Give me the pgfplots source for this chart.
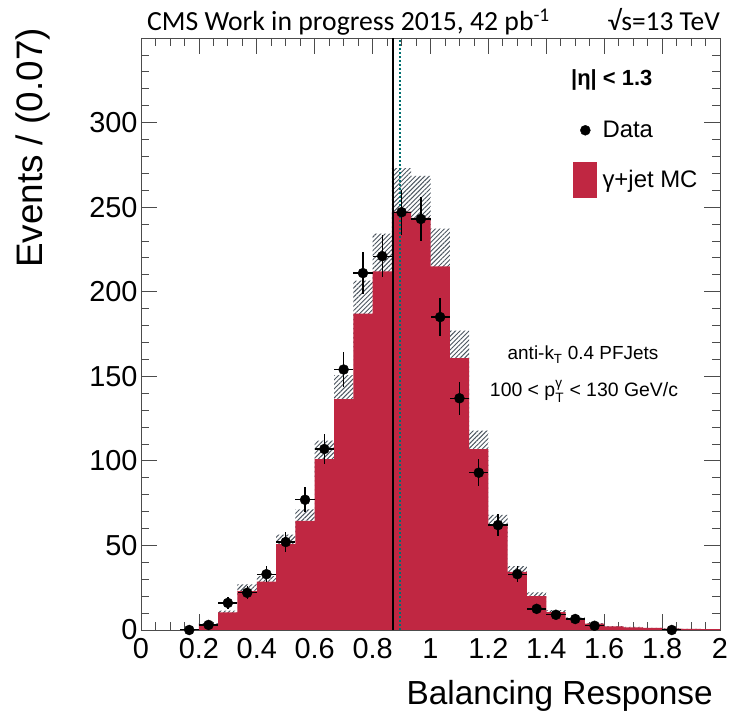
\documentclass[border=0pt]{standalone}
\usepackage{fontspec}
\setmainfont{Liberation Sans}
\newfontfamily\carlito{Carlito}
\usepackage{amsmath}
\usepackage{pgfplots}
\usepackage{pgfplotstable}
\pgfplotsset{compat=1.18}
\usepgfplotslibrary{fillbetween}
\usetikzlibrary{patterns.meta}

\definecolor{mcred}{RGB}{192,39,66}
\definecolor{hatchgray}{RGB}{75,85,95}
\definecolor{meanteal}{RGB}{0,112,112}

% gamma+jet MC, bin left edges (bin width 2/30)
\pgfplotstableread{
x      y
0.2000 3.5
0.2667 10.4
0.3333 23.0
0.4000 28.6
0.4667 50.8
0.5333 64.5
0.6000 101.0
0.6667 136.5
0.7333 187.0
0.8000 212.0
0.8667 247.4
0.9333 243.6
1.0000 215.0
1.0667 160.8
1.1333 107.0
1.2000 62.6
1.2667 34.3
1.3333 20.1
1.4000 10.6
1.4667 6.7
1.5333 3.7
1.6000 2.1
1.6667 1.6
1.7333 1.2
1.8000 0.8
1.8667 0.6
1.9333 0.5
2.0000 0.5
}\mctable

% MC uncertainty band
\pgfplotstableread{
x      lo     hi
0.2000 3.0    4.0
0.2667 9.4    11.4
0.3333 19.5   27.0
0.4000 25.4   31.8
0.4667 45.2   56.4
0.5333 57.1   71.3
0.6000 89.7   112.0
0.6667 122.0  150.7
0.7333 167.3  206.6
0.8000 189.9  234.3
0.8667 222.0  273.0
0.9333 217.5  268.5
1.0000 192.4  237.3
1.0667 144.0  177.0
1.1333 96.2   117.9
1.2000 55.1   68.1
1.2667 30.8   37.7
1.3333 17.8   22.2
1.4000 9.5    11.7
1.4667 6.0    7.4
1.5333 3.3    4.1
1.6000 1.9    2.3
1.6667 1.4    1.8
1.7333 1.1    1.3
1.8000 0.7    0.9
1.8667 0.5    0.7
1.9333 0.45   0.55
2.0000 0.45   0.55
}\bandtable

% data, bin centres
\pgfplotstableread{
x      y     ex      ey
0.1667 0     0.0333  0
0.2333 3     0.0333  1.5
0.3000 16    0.0333  3.4
0.3667 22    0.0333  3.9
0.4333 33    0.0333  4.8
0.5000 52    0.0333  6.0
0.5667 77    0.0333  7.4
0.6333 107   0.0333  8.7
0.7000 154   0.0333  10.4
0.7667 211   0.0333  12.2
0.8333 221   0.0333  12.4
0.9000 247   0.0333  13.2
0.9667 243   0.0333  13.1
1.0333 185   0.0333  11.4
1.1000 137   0.0333  9.8
1.1667 93    0.0333  8.1
1.2333 62    0.0333  6.6
1.3000 33    0.0333  4.8
1.3667 12.5  0.0333  3.0
1.4333 9     0.0333  2.5
1.5000 6.5   0.0333  2.1
1.5667 2.5   0.0333  1.3
1.8333 0     0.0333  0
}\datatable

\begin{document}
\begin{tikzpicture}
\begin{axis}[
  at={(141bp,84bp)}, anchor=south west,
  scale only axis, width=579bp, height=592bp,
  xmin=0, xmax=2, ymin=0, ymax=350,
  xtick={0,0.2,0.4,0.6,0.8,1,1.2,1.4,1.6,1.8,2},
  minor x tick num=3,
  ytick={0,50,100,150,200,250,300,350},
  yticklabels={0,50,100,150,200,250,300,},
  minor y tick num=4,
  tick align=inside,
  major tick length=16bp, minor tick length=8bp,
  axis line style={black!70, line width=0.8bp},
  every tick/.style={black!70, line width=0.8bp},
  /pgf/number format/assume math mode=true,
  tick label style={font=\fontsize{29}{29}\selectfont},
  xticklabel style={yshift=-5bp},
  legend style={at={(rel axis cs:0.746,0.874)}, anchor=north west,
    draw=none, fill=none, inner sep=0pt, row sep=14.5bp,
    nodes={inner sep=2bp}, font=\fontsize{24}{24}\selectfont,
    /tikz/every odd column/.style={column sep=4bp}},
  legend cell align=left,
]
  \addlegendimage{legend image code/.code={
    \path[draw=none, fill=none] (0bp,-17.5bp) rectangle (23bp,17.5bp);
    \fill[black] (12bp,0bp) circle (5bp);}}
  \addlegendentry{Data}
  \addlegendimage{legend image code/.code={
    \fill[mcred] (0bp,-17.5bp) rectangle (23bp,17.5bp);}}
  \addlegendentry{γ+jet MC}

  % MC histogram
  \addplot[const plot mark left, fill=mcred, draw=none, forget plot]
    table[x=x, y=y] {\mctable} \closedcycle;

  % hatched uncertainty band
  \addplot[name path=bandhi, const plot mark left, draw=none, forget plot]
    table[x=x, y=hi] {\bandtable};
  \addplot[name path=bandlo, const plot mark left, draw=none, forget plot]
    table[x=x, y=lo] {\bandtable};
  \addplot[pattern={Lines[angle=45, distance=3.2bp, line width=0.95bp]},
    pattern color=hatchgray, draw=none, forget plot]
    fill between[of=bandhi and bandlo];

  % mean response lines
  \addplot[black, line width=1.8bp, forget plot]
    coordinates {(0.8716,0) (0.8716,350)};
  \addplot[meanteal, line width=1.8bp, dash pattern=on 2bp off 2bp, forget plot]
    coordinates {(0.8946,0) (0.8946,350)};

  % data
  \addplot[only marks, mark=*, mark size=5bp, black, forget plot,
    error bars/.cd, x dir=both, x explicit, y dir=both, y explicit,
    error mark=none, error bar style={line width=1.3bp, black}]
    table[x=x, y=y, x error=ex, y error=ey] {\datatable};
\end{axis}

% titles and labels
\node[anchor=base west, inner sep=0pt, font=\carlito\fontsize{27.8}{27.8}\selectfont]
  at (147bp,683bp) {CMS Work in progress 2015, 42 pb\textsuperscript{-1}};
\node[anchor=base east, inner sep=0pt, font=\carlito\fontsize{27.5}{27.5}\selectfont]
  at (720bp,683bp) {√s=13 TeV};
\node[anchor=base east, inner sep=0pt, font=\fontsize{33.5}{33.5}\selectfont]
  at (713bp,10bp) {Balancing Response};
\node[rotate=90, anchor=north east, inner sep=0pt, font=\fontsize{37}{37}\selectfont]
  at (16bp,686bp) {Events / (0.07)};
\node[anchor=base west, inner sep=0pt, font=\bfseries\fontsize{22}{22}\selectfont]
  at (571bp,628bp) {|η| < 1.3};
\node[anchor=base, inner sep=0pt, font=\fontsize{19}{19}\selectfont]
  at (583bp,354bp) {anti-k\textsubscript{T} 0.4 PFJets};
\node[anchor=base, inner sep=0pt, font=\fontsize{19.5}{19.5}\selectfont]
  at (584bp,317bp) {100 < p$^{\text{γ}}_{\text{T}}$ < 130 GeV/c};

\pgfresetboundingbox
\path[use as bounding box] (0bp,0bp) rectangle (733bp,714bp);
\end{tikzpicture}
\end{document}
